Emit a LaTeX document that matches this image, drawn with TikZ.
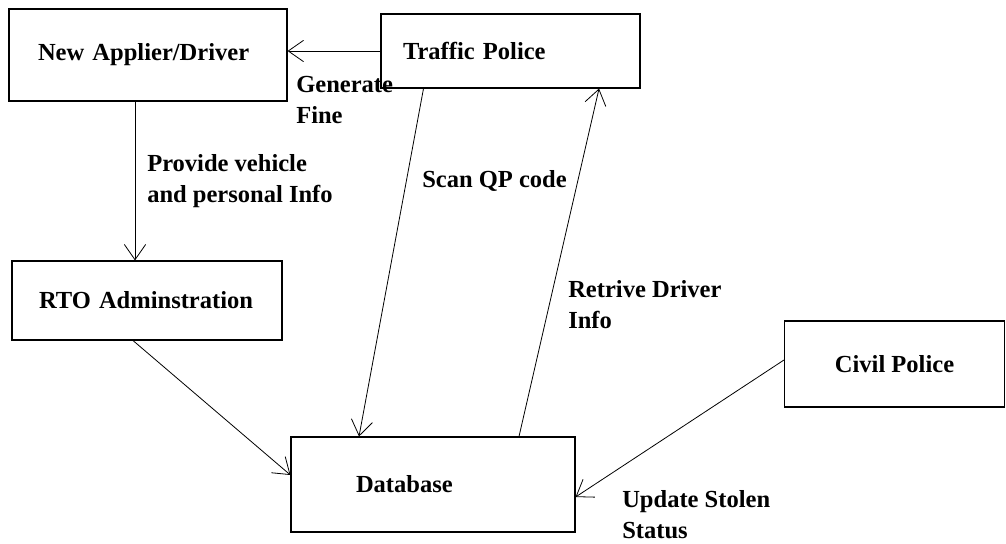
\documentclass[tikz,border=0pt]{standalone}
\usepackage{fontspec}
\setmainfont{Liberation Serif}
\usetikzlibrary{arrows.meta,positioning}

\begin{document}
\begin{tikzpicture}[x=0.75pt, y=-0.75pt, >={Straight Barb[length=11.5pt,width=16pt]},
		lbl/.style={font=\bfseries\fontsize{18.4}{23}\selectfont},
		every node/.style={lbl}]
		\useasboundingbox (0,0) rectangle (1006,543);
		\begin{scope}[every node/.style={draw, lbl, line width=0.8pt, align=left}]
			\node[minimum height=69pt, text width=165pt, inner xsep=21.75pt] (applier) at (148,55) {New Applier/Driver};
			\node[minimum height=55.5pt, text width=161.25pt, inner xsep=16.5pt] (police) at (510.5,51) {Traffic Police};
			\node[minimum height=59.25pt, text width=162pt, inner xsep=20.25pt] (rto) at (147,300.5) {RTO Adminstration};
			\node[minimum height=71.25pt, text width=115.5pt, inner xsep=48.75pt] (db) at (433,484.5) {Database};
			\node[minimum height=64.5pt, minimum width=165pt] (civil) at (894.5,364) {Civil Police};
		\end{scope}
		\begin{scope}[every node/.style={lbl, inner sep=0pt, anchor=base west, align=left}]
			\node (fine) at (296,123) {Generate\\Fine};
			\node (info) at (147,202) {Provide vehicle\\and personal Info};
			\node (scan) at (422,187) {Scan QP code};
			\node (retrive) at (568,328) {Retrive Driver\\Info};
			\node (stolen) at (622,538) {Update Stolen\\Status};
		\end{scope}
		\begin{scope}[every path/.style={line width=0.6pt, ->}]
			\draw (police.west) -- (police.west -| applier.east);
			\draw ([xshift=-9.75pt]applier.south) -- ([xshift=-9.75pt]applier.south |- rto.north);
			\draw ([xshift=-10.5pt]rto.south) -- ([yshift=7.1pt]db.west);
			\draw ([xshift=-65.25pt]police.south) -- ([xshift=-55.5pt]db.north);
			\draw ([xshift=64.5pt]db.north) -- ([xshift=66.4pt]police.south);
			\draw ([yshift=3pt]civil.west) -- ([yshift=-9.4pt]db.east);
		\end{scope}
	\end{tikzpicture}
\end{document}
